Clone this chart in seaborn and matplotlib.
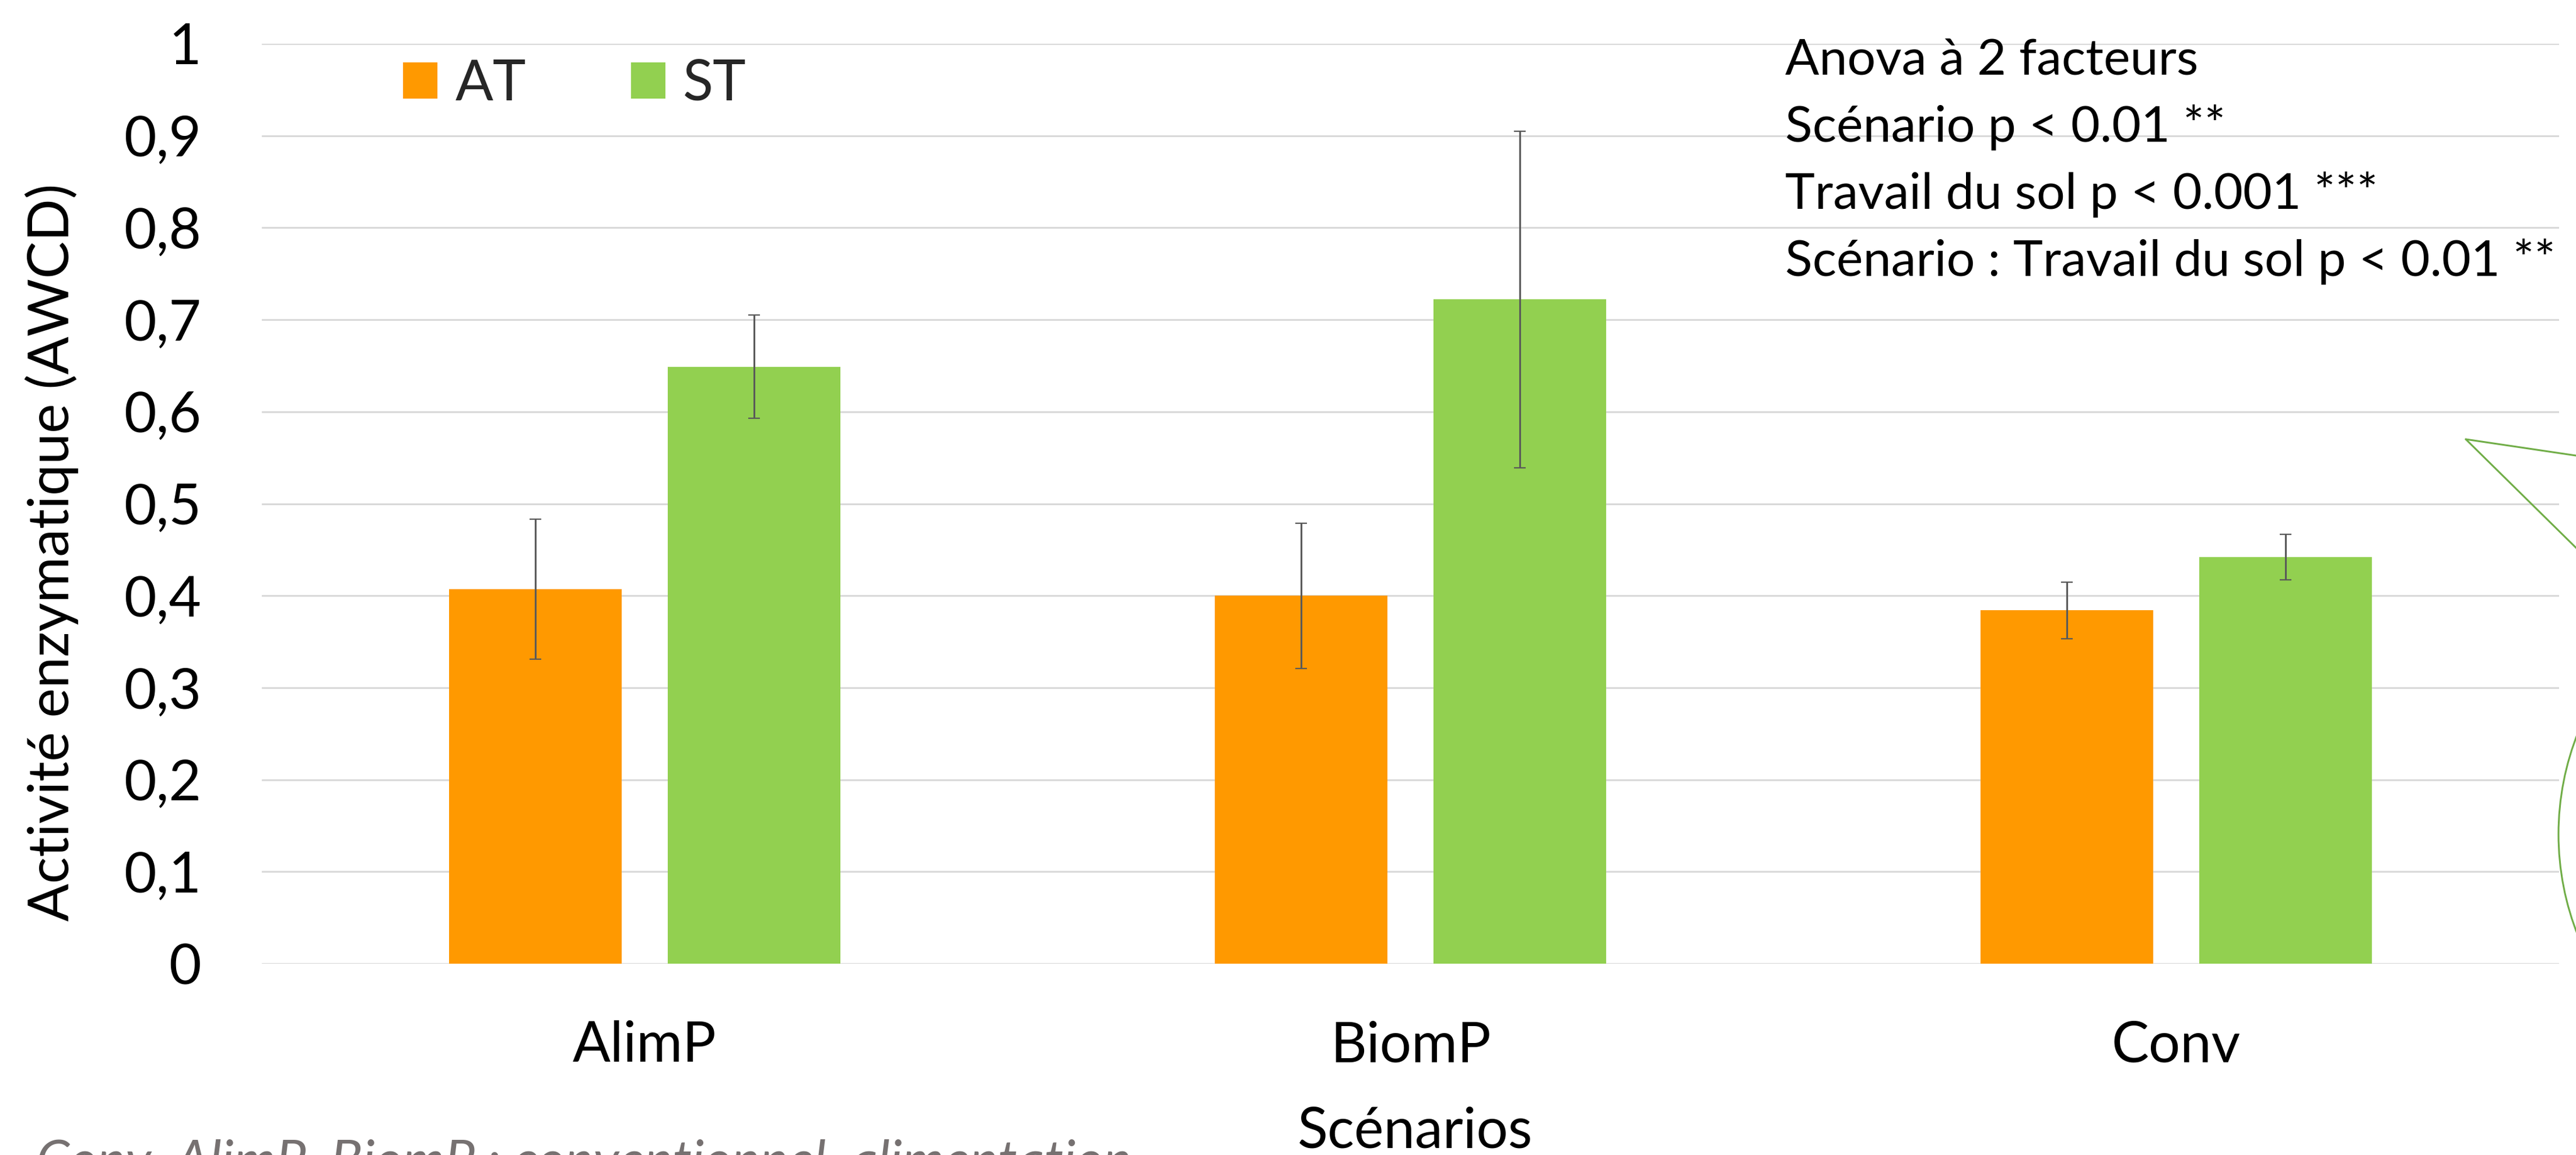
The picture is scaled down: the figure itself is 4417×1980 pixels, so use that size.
import matplotlib
matplotlib.use("Agg")
import matplotlib.pyplot as plt
from matplotlib.patches import Patch, Ellipse
from matplotlib.lines import Line2D
import seaborn as sns
import pandas as pd

# ---------------- data ----------------
scenarios = ["AlimP", "BiomP", "Conv"]
treatments = ["AT", "ST"]
values_AT = [0.407, 0.400, 0.384]
values_ST = [0.649, 0.722, 0.442]
err_AT = [0.076, 0.079, 0.031]
err_ST = [0.056, 0.183, 0.025]
ytick_vals = [0, 0.1, 0.2, 0.3, 0.4, 0.5, 0.6, 0.7, 0.8, 0.9, 1.0]
ytick_labels = ["0", "0,1", "0,2", "0,3", "0,4", "0,5", "0,6", "0,7", "0,8", "0,9", "1"]
colors = {"AT": "#FF9900", "ST": "#92D050"}
ylabel = "Activité enzymatique (AWCD)"
xlabel = "Scénarios"
anova_lines = ["Anova à 2 facteurs",
               "Scénario p < 0.01 **",
               "Travail du sol p < 0.001 ***",
               "Scénario : Travail du sol p < 0.01 **"]
footnote = "Conv, AlimP, BiomP : conventionnel, alimentation"

df = pd.DataFrame({
    "Scénario": scenarios * 2,
    "Travail": ["AT"] * 3 + ["ST"] * 3,
    "AWCD": values_AT + values_ST,
})
errs = {"AT": err_AT, "ST": err_ST}

# ---------------- figure ----------------
W, H, DPI = 4417, 1980, 100
sns.set_style("white")
plt.rcParams["font.family"] = ["Lato", "DejaVu Sans"]

fig = plt.figure(figsize=(W / DPI, H / DPI), dpi=DPI)
fig.patch.set_facecolor("white")

def fx(px):
    return px / W

def fy(py):
    return 1 - py / H

left, right, top, bottom = 449, 4388, 75, 1652
ax = fig.add_axes([fx(left), fy(bottom), (right - left) / W, (bottom - top) / H])

sns.barplot(data=df, x="Scénario", y="AWCD", hue="Travail", order=scenarios,
            hue_order=treatments, palette=colors, saturation=1,
            width=0.571, gap=0.211, errorbar=None, legend=False, ax=ax,
            linewidth=0)

# error bars at bar centres
for cont, t in zip(ax.containers, treatments):
    xs = [b.get_x() + b.get_width() / 2 for b in cont]
    ys = [b.get_height() for b in cont]
    ax.errorbar(xs, ys, yerr=errs[t], fmt="none", ecolor="#595959",
                elinewidth=2.2, capsize=7, capthick=1.6, zorder=5)

ax.set_xlim(-0.5, 2.5)
ax.set_ylim(0, 1)
ax.set_yticks(ytick_vals)
ax.set_yticklabels(ytick_labels)
ax.yaxis.grid(True, color="#D9D9D9", linewidth=2.2)
ax.xaxis.grid(False)
ax.set_axisbelow(True)
for s in ax.spines.values():
    s.set_visible(False)
ax.tick_params(axis="y", length=0, pad=75, labelsize=69, labelcolor="black")
ax.tick_params(axis="x", length=0, pad=70, labelsize=69, labelcolor="black")
ax.set_xlabel("")
ax.set_ylabel("")

# legend
handles = [Patch(facecolor=colors[t], edgecolor="none", label=t) for t in treatments]
fig.legend(handles=handles, loc="center left",
           bbox_to_anchor=(fx(691), fy(145)), bbox_transform=fig.transFigure,
           ncol=2, frameon=False, fontsize=69, borderpad=0, borderaxespad=0,
           handlelength=0.615, handleheight=0.615, handletextpad=0.32,
           columnspacing=1.875)

# axis titles
fig.text(fx(89), fy(947), ylabel, rotation=90, ha="center", va="center",
         fontsize=69, color="black")
fig.text(fx(2426), fy(1968), xlabel, ha="center", va="baseline",
         fontsize=69, color="black")

# anova annotation
for i, line in enumerate(anova_lines):
    fig.text(fx(3061), fy(128 + 115 * i), line, ha="left", va="baseline",
             fontsize=62, color="black")

# footnote (cropped at bottom, as in the original)
fig.text(fx(62), fy(2020), footnote, ha="left", va="baseline",
         fontsize=66, color="#767171", style="italic")

# callout shape on the right (mostly cropped)
green = "#70AD47"
tip = (4228, 753)
for end in [(4417 + 189, 781 + 28), (4417 + 189, 939 + 186)]:
    fig.add_artist(Line2D([fx(tip[0]), fx(end[0])], [fy(tip[1]), fy(end[1])],
                          transform=fig.transFigure, color=green, linewidth=2.2))
a, b = 450, 460
fig.add_artist(Ellipse((fx(4387 + a), fy(1430)), 2 * a / W, 2 * b / H,
                       transform=fig.transFigure, fill=False,
                       edgecolor=green, linewidth=2.2))

fig.savefig("out.png", dpi=DPI, facecolor="white")
